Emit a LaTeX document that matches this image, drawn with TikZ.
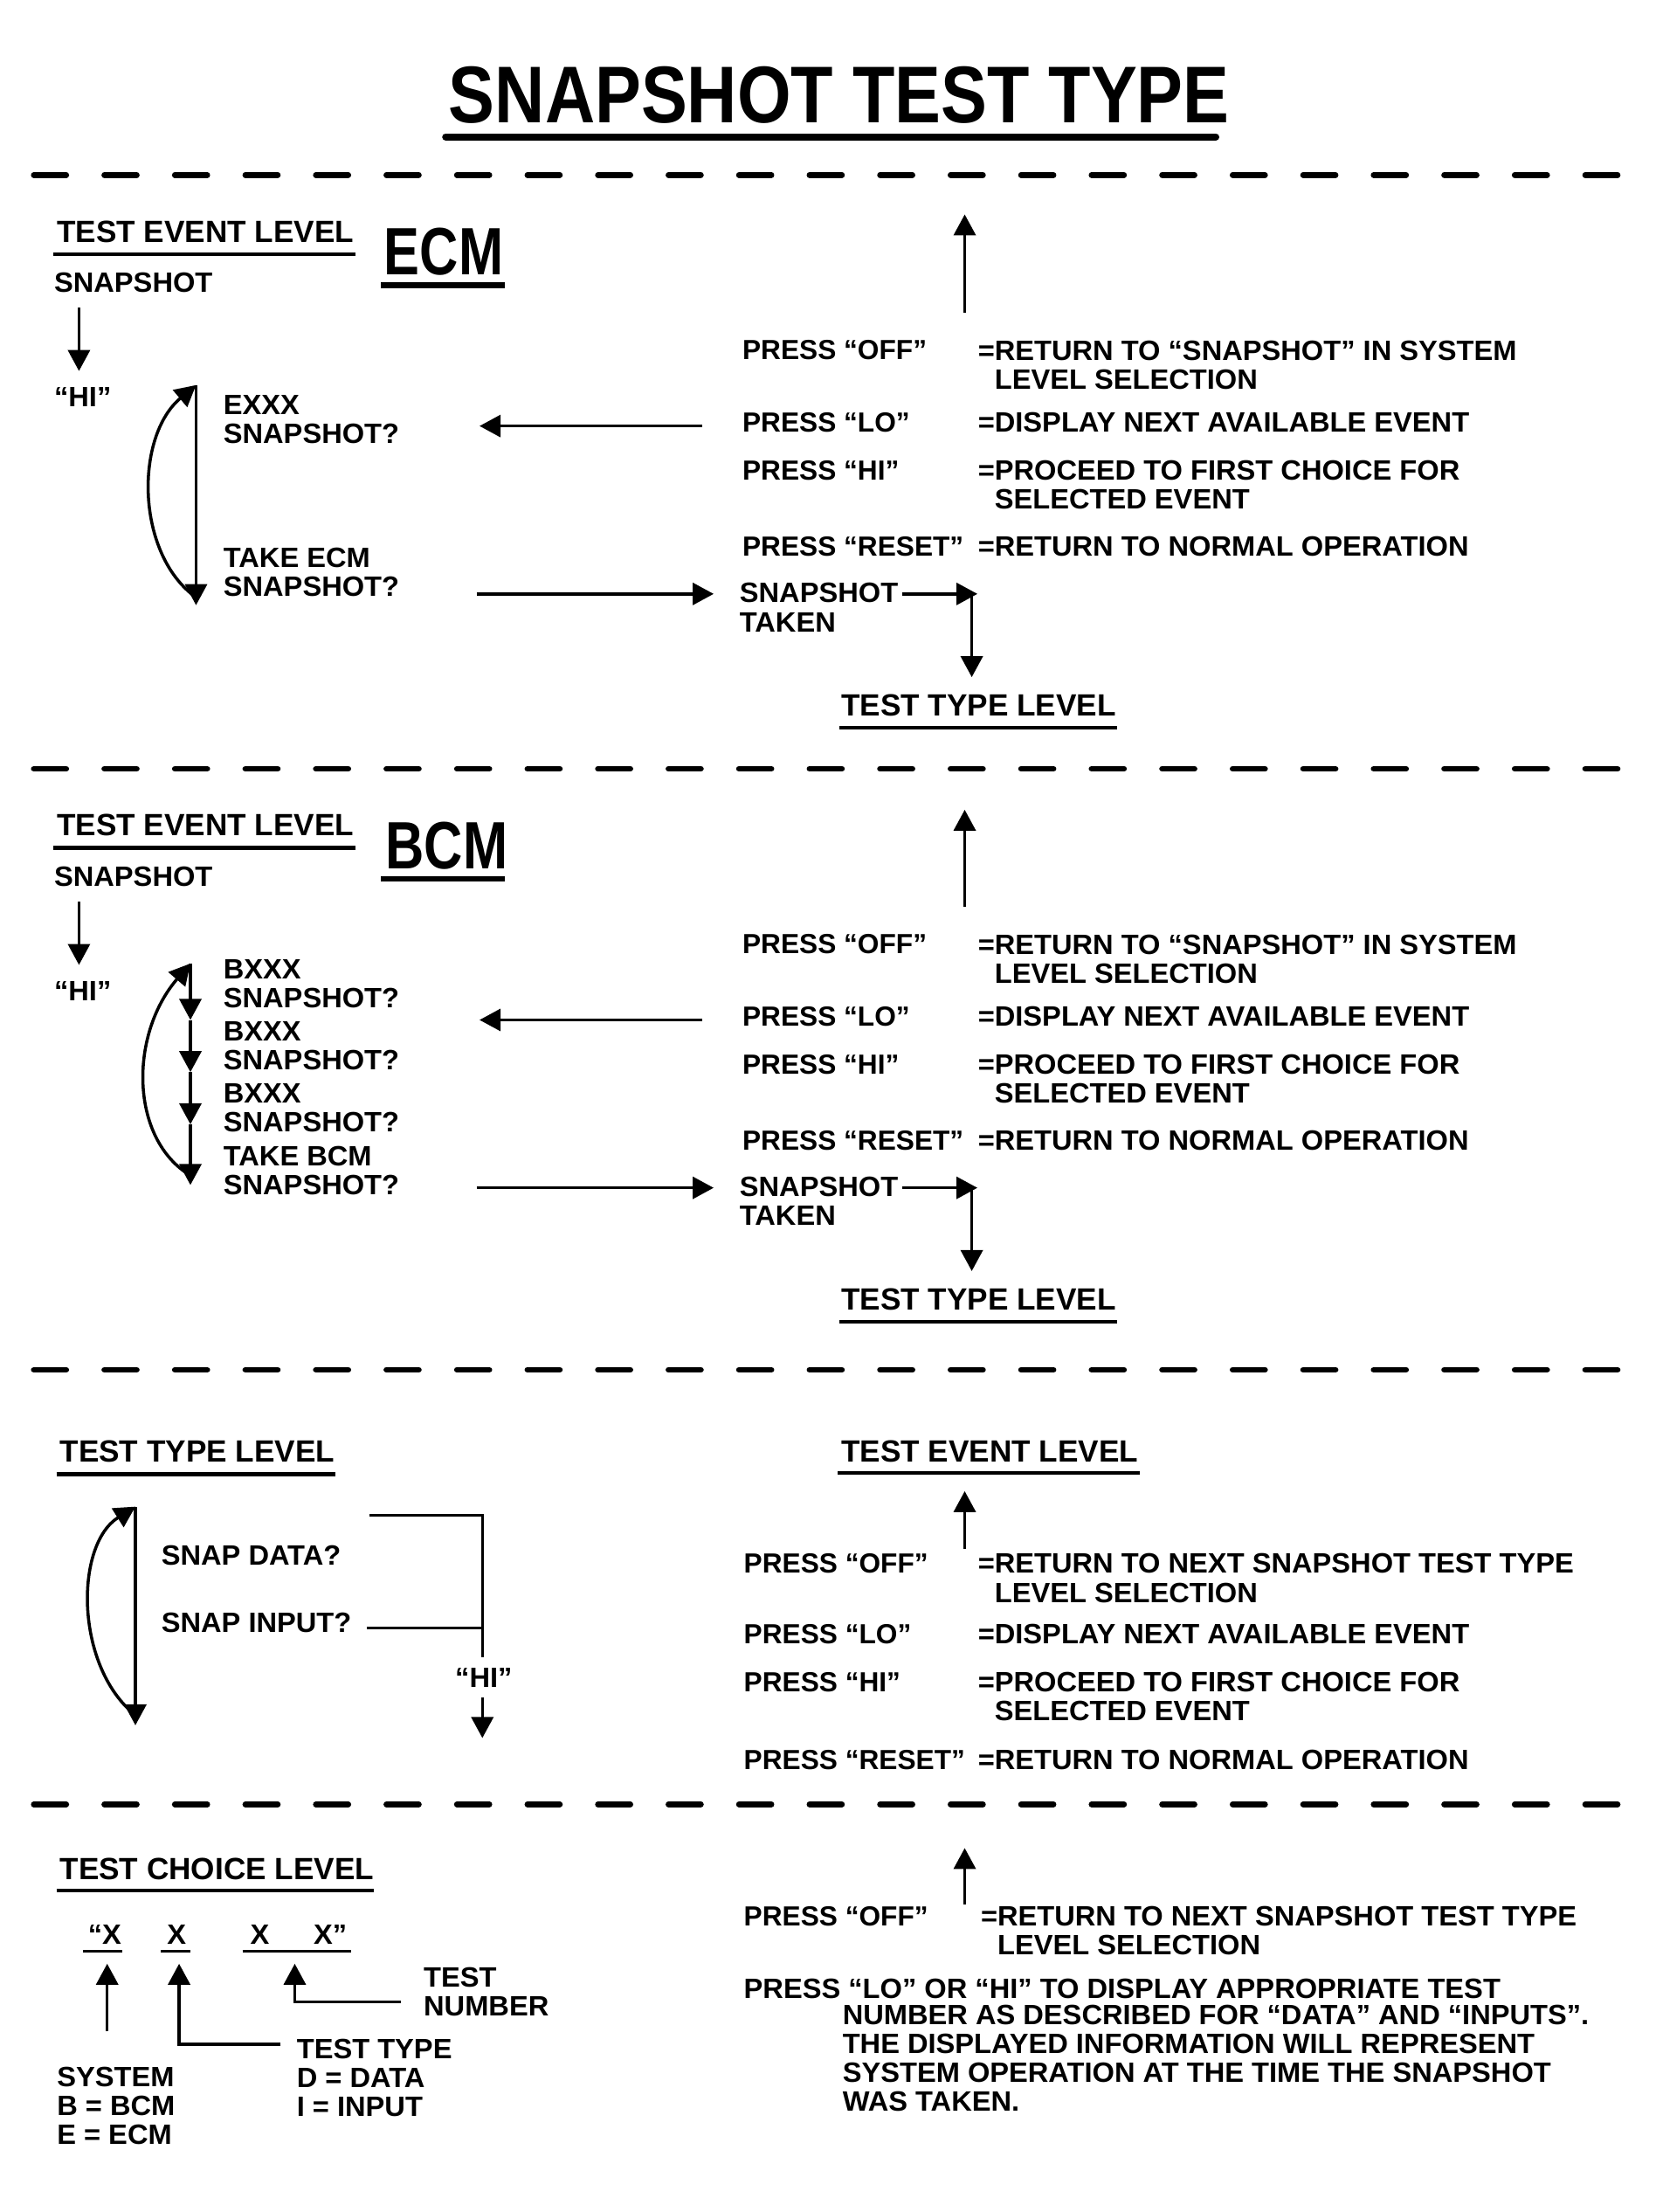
\documentclass[tikz,border=0pt]{standalone}
\usepackage{fontspec}
\setmainfont{Liberation Sans}
\newfontfamily\titlefont[FakeStretch=0.86]{Liberation Sans}
\newfontfamily\modfont[FakeStretch=0.8]{Liberation Sans}
\newfontfamily\bodyfont[FakeStretch=1.02]{Liberation Sans}
\usetikzlibrary{arrows.meta}

\begin{document}
\begin{tikzpicture}[x=0.1614mm, y=-0.1614mm,
        txt/.style = {anchor=north west, inner sep=0pt, align=left, font=\bodyfont\bfseries\fontsize{9.1}{9.4}\selectfont},
        press/.style = {anchor=north west, inner sep=0pt, font=\bfseries\fontsize{9}{9.4}\selectfont},
        head/.style = {anchor=north west, inner sep=0pt, font=\bfseries\fontsize{10}{11}\selectfont},
        module/.style = {anchor=north west, inner sep=0pt, font=\modfont\bfseries\fontsize{21.8}{24}\selectfont},
        arr/.style = {-{Triangle[length=2.4mm,width=2.5mm]}, line width=1pt},
        ln/.style = {line width=1pt},
        uline/.style = {line width=1.15pt},
        cut/.style = {line width=1.9pt, line cap=round, dash pattern=on 3.7mm off 4.37mm}]
    \useasboundingbox (0,0) rectangle (1174,1568);

    \node[anchor=north, inner sep=0pt, font=\titlefont\bfseries\fontsize{26.2}{30}\selectfont] (title) at (595,47) {SNAPSHOT TEST TYPE};
    \draw[line width=2.3pt, line cap=round] (316,97) -- (862,97);
    \foreach \y in {124,545,971,1279}
        \draw[cut] (24,\y) -- (1150,\y);

    % ECM
    \node[head] (tel1) at (40,156) {TEST EVENT LEVEL};
    \draw[uline] (38,180) -- (252,180);
    \node[txt] (snap1) at (38,193) {SNAPSHOT};
    \node[module] (ecm) at (272,161) {ECM};
    \draw[line width=1.9pt] (270,202) -- (358,202);
    \node[txt] (hi1) at (38,274) {“HI”};
    \node[txt] (ev1) at (158,280) {EXXX\\SNAPSHOT?};
    \node[txt] (take1) at (158,388) {TAKE ECM\\SNAPSHOT?};
    \node[press] (off1) at (526,241) {PRESS “OFF”};
    \node[txt] (offd1) at (693,241) {=RETURN TO “SNAPSHOT” IN SYSTEM\\\phantom{=}LEVEL SELECTION};
    \node[press] (lo1) at (526,292) {PRESS “LO”};
    \node[txt] (lod1) at (693,292) {=DISPLAY NEXT AVAILABLE EVENT};
    \node[press] (hip1) at (526,326) {PRESS “HI”};
    \node[txt] (hid1) at (693,326) {=PROCEED TO FIRST CHOICE FOR\\\phantom{=}SELECTED EVENT};
    \node[press] (rst1) at (526,380) {PRESS “RESET”};
    \node[txt] (rstd1) at (693,380) {=RETURN TO NORMAL OPERATION};
    \node[txt] (tkn1) at (524,413) {SNAPSHOT\\TAKEN};
    \node[head] (ttl1) at (596,492) {TEST TYPE LEVEL};
    \draw[uline] (595,516) -- (792,516);

    \coordinate (up1a) at (684,222);   \coordinate (up1b) at (684,152);
    \coordinate (dn1a) at (56,218);    \coordinate (dn1b) at (56,263);
    \coordinate (lt1) at (139,273);    \coordinate (lb1) at (139,429);
    \coordinate (lc1) at (137,422);
    \coordinate (lo1a) at (498,302);   \coordinate (lo1b) at (340,302);
    \coordinate (tk1a) at (338,421);   \coordinate (tk1b) at (506,421);
    \coordinate (cr1a) at (640,421);   \coordinate (cr1b) at (693,421);
    \coordinate (cr1c) at (689,421);   \coordinate (cr1d) at (689,480);
    \draw[arr] (up1a) -- (up1b);
    \draw[arr] (dn1a) -- (dn1b);
    \draw[arr] (lt1) -- (lb1);
    \draw[arr] (lc1) .. controls (96,390) and (96,309) .. (lt1);
    \draw[arr] (lo1a) -- (lo1b);
    \draw[arr] (tk1a) -- (tk1b);
    \draw[arr] (cr1a) -- (cr1b);
    \draw[arr] (cr1c) -- (cr1d);

    % BCM
    \node[head] (tel2) at (40,577) {TEST EVENT LEVEL};
    \draw[uline] (38,601) -- (252,601);
    \node[txt] (snap2) at (38,614) {SNAPSHOT};
    \node[module] (bcm) at (273,582) {BCM};
    \draw[line width=1.9pt] (270,623) -- (358,623);
    \node[txt] (hi2) at (38,695) {“HI”};
    \node[txt] (ev2a) at (158,680) {BXXX\\SNAPSHOT?};
    \node[txt] (ev2b) at (158,724) {BXXX\\SNAPSHOT?};
    \node[txt] (ev2c) at (158,768) {BXXX\\SNAPSHOT?};
    \node[txt] (take2) at (158,812) {TAKE BCM\\SNAPSHOT?};
    \node[press] (off2) at (526,662) {PRESS “OFF”};
    \node[txt] (offd2) at (693,662) {=RETURN TO “SNAPSHOT” IN SYSTEM\\\phantom{=}LEVEL SELECTION};
    \node[press] (lo2) at (526,713) {PRESS “LO”};
    \node[txt] (lod2) at (693,713) {=DISPLAY NEXT AVAILABLE EVENT};
    \node[press] (hip2) at (526,747) {PRESS “HI”};
    \node[txt] (hid2) at (693,747) {=PROCEED TO FIRST CHOICE FOR\\\phantom{=}SELECTED EVENT};
    \node[press] (rst2) at (526,801) {PRESS “RESET”};
    \node[txt] (rstd2) at (693,801) {=RETURN TO NORMAL OPERATION};
    \node[txt] (tkn2) at (524,834) {SNAPSHOT\\TAKEN};
    \node[head] (ttl2) at (596,913) {TEST TYPE LEVEL};
    \draw[uline] (595,937) -- (792,937);

    \coordinate (up2a) at (684,643);   \coordinate (up2b) at (684,574);
    \coordinate (dn2a) at (56,639);    \coordinate (dn2b) at (56,684);
    \coordinate (lt2) at (135,683);    \coordinate (l2a) at (135,723);
    \coordinate (l2b) at (135,760);    \coordinate (l2c) at (135,797);
    \coordinate (lb2) at (135,840);    \coordinate (lc2) at (133,832);
    \coordinate (lo2a) at (498,723);   \coordinate (lo2b) at (340,723);
    \coordinate (tk2a) at (338,842);   \coordinate (tk2b) at (506,842);
    \coordinate (cr2a) at (640,842);   \coordinate (cr2b) at (693,842);
    \coordinate (cr2c) at (689,842);   \coordinate (cr2d) at (689,901);
    \draw[arr] (up2a) -- (up2b);
    \draw[arr] (dn2a) -- (dn2b);
    \draw[arr] (lt2) -- (l2a);
    \draw[arr] (l2a) -- (l2b);
    \draw[arr] (l2b) -- (l2c);
    \draw[arr] (l2c) -- (lb2);
    \draw[arr] (lc2) .. controls (92,805) and (92,733) .. (lt2);
    \draw[arr] (lo2a) -- (lo2b);
    \draw[arr] (tk2a) -- (tk2b);
    \draw[arr] (cr2a) -- (cr2b);
    \draw[arr] (cr2c) -- (cr2d);

    % test type level
    \node[head] (ttl3) at (42,1021) {TEST TYPE LEVEL};
    \draw[uline] (40,1045) -- (238,1045);
    \node[head] (tel3) at (596,1021) {TEST EVENT LEVEL};
    \draw[uline] (594,1044) -- (808,1044);
    \node[txt] (sd3) at (114,1095) {SNAP DATA?};
    \node[txt] (si3) at (114,1143) {SNAP INPUT?};
    \node[txt, anchor=north] (hi3) at (343,1182) {“HI”};
    \node[press] (off3) at (527,1101) {PRESS “OFF”};
    \node[txt] (offd3) at (693,1101) {=RETURN TO NEXT SNAPSHOT TEST TYPE\\\phantom{=}LEVEL SELECTION};
    \node[press] (lo3) at (527,1151) {PRESS “LO”};
    \node[txt] (lod3) at (693,1151) {=DISPLAY NEXT AVAILABLE EVENT};
    \node[press] (hip3) at (527,1185) {PRESS “HI”};
    \node[txt] (hid3) at (693,1185) {=PROCEED TO FIRST CHOICE FOR\\\phantom{=}SELECTED EVENT};
    \node[press] (rst3) at (527,1240) {PRESS “RESET”};
    \node[txt] (rstd3) at (693,1240) {=RETURN TO NORMAL OPERATION};

    \coordinate (up3a) at (684,1098);  \coordinate (up3b) at (684,1057);
    \coordinate (lt3) at (96,1068);    \coordinate (lb3) at (96,1223);
    \coordinate (lc3) at (95,1215);
    \coordinate (br3a) at (262,1074);  \coordinate (br3b) at (342,1074);
    \coordinate (br3c) at (342,1175);  \coordinate (br3d) at (260,1154);
    \coordinate (br3e) at (342,1154);
    \coordinate (hi3a) at (342,1203);  \coordinate (hi3b) at (342,1232);
    \draw[arr] (up3a) -- (up3b);
    \draw[arr] (lt3) -- (lb3);
    \draw[arr] (lc3) .. controls (53,1180) and (53,1095) .. (lt3);
    \draw[ln] (br3a) -- (br3b) -- (br3c);
    \draw[ln] (br3d) -- (br3e);
    \draw[arr] (hi3a) -- (hi3b);

    % test choice level
    \node[head] (tcl4) at (42,1317) {TEST CHOICE LEVEL};
    \draw[uline] (40,1340) -- (265,1340);
    \node[txt] (x1) at (62,1364) {“X};
    \node[txt] (x2) at (118,1364) {X};
    \node[txt] (x3) at (177,1364) {X};
    \node[txt] (x4) at (222,1364) {X”};
    \draw[line width=1pt] (59,1383) -- (87,1383);
    \draw[line width=1pt] (114,1383) -- (135,1383);
    \draw[line width=1pt] (172,1383) -- (249,1383);
    \node[txt] (num4) at (300,1394) {TEST\\NUMBER};
    \node[txt] (typ4) at (210,1445) {TEST TYPE\\D = DATA\\I = INPUT};
    \node[txt] (sys4) at (40,1465) {SYSTEM\\B = BCM\\E = ECM};
    \node[press] (off4) at (527,1351) {PRESS “OFF”};
    \node[txt] (offd4) at (695,1351) {=RETURN TO NEXT SNAPSHOT TEST TYPE\\\phantom{=}LEVEL SELECTION};
    \node[txt] (lohi4) at (527,1402) {PRESS “LO” OR “HI” TO DISPLAY APPROPRIATE TEST};
    \node[txt] (more4) at (597,1421) {NUMBER AS DESCRIBED FOR “DATA” AND “INPUTS”.\\THE DISPLAYED INFORMATION WILL REPRESENT\\SYSTEM OPERATION AT THE TIME THE SNAPSHOT\\WAS TAKEN.};

    \coordinate (up4a) at (684,1350);  \coordinate (up4b) at (684,1310);
    \coordinate (s4a) at (76,1440);    \coordinate (s4b) at (76,1392);
    \coordinate (t4a) at (199,1449);   \coordinate (t4b) at (127,1449);
    \coordinate (t4c) at (127,1392);
    \coordinate (n4a) at (284,1419);   \coordinate (n4b) at (209,1419);
    \coordinate (n4c) at (209,1392);
    \draw[arr] (up4a) -- (up4b);
    \draw[arr] (s4a) -- (s4b);
    \draw[arr] (t4a) -- (t4b) -- (t4c);
    \draw[arr] (n4a) -- (n4b) -- (n4c);
\end{tikzpicture}
\end{document}
